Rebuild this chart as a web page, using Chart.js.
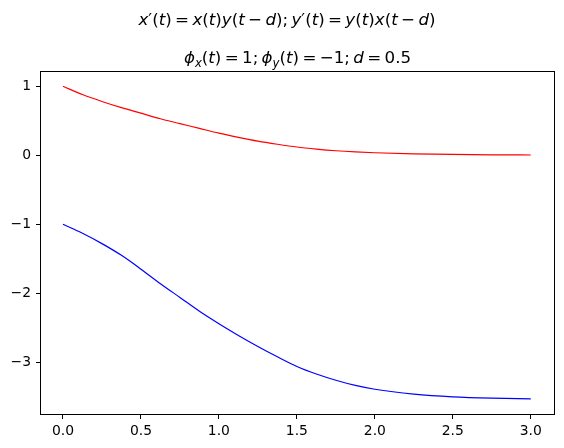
<!DOCTYPE html>
<html>
<head>
<meta charset="utf-8">
<script src="https://cdn.jsdelivr.net/npm/chart.js@4"></script>
<style>
  html, body { margin: 0; padding: 0; background: #fff; }
</style>
</head>
<body>
<canvas id="myChart" width="564" height="448"></canvas>
<script>
// values
const tValues = [0, 0.125, 0.25, 0.375, 0.5, 0.625, 0.75, 0.875, 1.0, 1.125, 1.25, 1.375,
                 1.5, 1.625, 1.75, 1.875, 2.0, 2.25, 2.5, 2.75, 3.0];
const xSeries = [1.00, 0.88, 0.78, 0.69, 0.61, 0.53, 0.46, 0.39, 0.32, 0.26, 0.205, 0.16,
                 0.12, 0.09, 0.066, 0.049, 0.037, 0.021, 0.012, 0.007, 0.004];
const ySeries = [-1.00, -1.13, -1.28, -1.45, -1.65, -1.86, -2.06, -2.26, -2.44, -2.61, -2.77, -2.92,
                 -3.06, -3.17, -3.26, -3.335, -3.39, -3.46, -3.50, -3.52, -3.53];

const xTickValues = [0, 0.5, 1.0, 1.5, 2.0, 2.5, 3.0];
const yTickValues = [-3, -2, -1, 0, 1];

const suptitleText = "x′(t) = x(t)y(t − d); y′(t) = y(t)x(t − d)";
const axTitleText = "ϕ_x(t) = 1; ϕ_y(t) = −1; d = 0.5";

// split a title into roman / italic / subscript / space runs
function parseMath(s) {
    const runs = [];
    for (let i = 0; i < s.length; i++) {
        let ch = s[i], style;
        if (ch === '_') { ch = s[++i]; style = 'sub'; }
        else if (ch === ' ') style = 'sp';
        else if (/[a-zϕ]/.test(ch)) style = 'it';
        else style = 'rm';
        const last = runs[runs.length - 1];
        if (last && last.style === style) last.text += ch;
        else runs.push({ text: ch, style: style });
    }
    return runs;
}

function fontFor(style, size) {
    if (style === 'it') return "italic " + size + "px 'DejaVu Sans'";
    if (style === 'sub') return "italic " + (size * 0.7) + "px 'DejaVu Sans'";
    return size + "px 'DejaVu Sans'";
}

function drawMath(ctx, s, cx, baseline, size) {
    const runs = parseMath(s);
    let total = 0;
    runs.forEach(r => {
        ctx.font = fontFor(r.style, size);
        r.w = r.style === 'sp' ? r.text.length * size * 0.2 : ctx.measureText(r.text).width;
        total += r.w;
    });
    let x = cx - total / 2;
    runs.forEach(r => {
        if (r.style !== 'sp') {
            ctx.font = fontFor(r.style, size);
            ctx.fillText(r.text, x, r.style === 'sub' ? baseline + size * 0.22 : baseline);
        }
        x += r.w;
    });
}

const titlePlugin = {
    id: 'mathTitles',
    afterDraw(chart) {
        const ctx = chart.ctx;
        const a = chart.chartArea;
        ctx.save();
        ctx.fillStyle = '#000';
        ctx.textAlign = 'left';
        ctx.textBaseline = 'alphabetic';
        drawMath(ctx, suptitleText, 287, 24.5, 16.7);
        drawMath(ctx, axTitleText, (a.left + a.right) / 2, 63, 16.7);
        ctx.restore();
    }
};

// box round the plot like matplotlib spines
const framePlugin = {
    id: 'frame',
    afterDatasetsDraw(chart) {
        const ctx = chart.ctx;
        const a = chart.chartArea;
        ctx.save();
        ctx.strokeStyle = '#000';
        ctx.lineWidth = 1;
        ctx.strokeRect(a.left - 0.5, a.top - 0.5, a.right - a.left + 1, a.bottom - a.top + 1);
        ctx.restore();
    }
};

const fmtMinus = v => String(v).replace('-', '−');

const data = {
    datasets: [{
        data: tValues.map((t, i) => ({ x: t, y: xSeries[i] })),
        borderColor: '#ff0000',
        borderWidth: 1.2,
        pointRadius: 0,
        cubicInterpolationMode: 'monotone',
        fill: false
    }, {
        data: tValues.map((t, i) => ({ x: t, y: ySeries[i] })),
        borderColor: '#0000ff',
        borderWidth: 1.2,
        pointRadius: 0,
        cubicInterpolationMode: 'monotone',
        fill: false
    }]
};

const tickFont = { family: "'DejaVu Sans'", size: 13.9 };

const config = {
    type: 'line',
    data: data,
    options: {
        responsive: false,
        devicePixelRatio: 1,
        animation: false,
        layout: { padding: { top: 72, right: 10, left: 0, bottom: 0 } },
        plugins: {
            legend: { display: false },
            tooltip: { enabled: false },
            title: { display: false }
        },
        scales: {
            x: {
                type: 'linear',
                min: -0.141,
                max: 3.149,
                afterBuildTicks: s => { s.ticks = xTickValues.map(v => ({ value: v })); },
                afterFit: s => { s.height = 34; },
                ticks: {
                    color: '#000',
                    font: tickFont,
                    padding: 4,
                    maxRotation: 0,
                    autoSkip: false,
                    callback: v => v.toFixed(1)
                },
                grid: { drawOnChartArea: false, drawTicks: true, tickLength: 5, color: '#000', lineWidth: 1 },
                border: { display: false }
            },
            y: {
                type: 'linear',
                min: -3.749,
                max: 1.207,
                afterBuildTicks: s => { s.ticks = yTickValues.map(v => ({ value: v })); },
                afterFit: s => { s.width = 41; },
                ticks: {
                    color: '#000',
                    font: tickFont,
                    padding: 5,
                    autoSkip: false,
                    callback: v => fmtMinus(v)
                },
                grid: { drawOnChartArea: false, drawTicks: true, tickLength: 5, color: '#000', lineWidth: 1 },
                border: { display: false }
            }
        }
    },
    plugins: [titlePlugin, framePlugin]
};

const myChart = new Chart(document.getElementById('myChart'), config);
</script>
</body>
</html>
